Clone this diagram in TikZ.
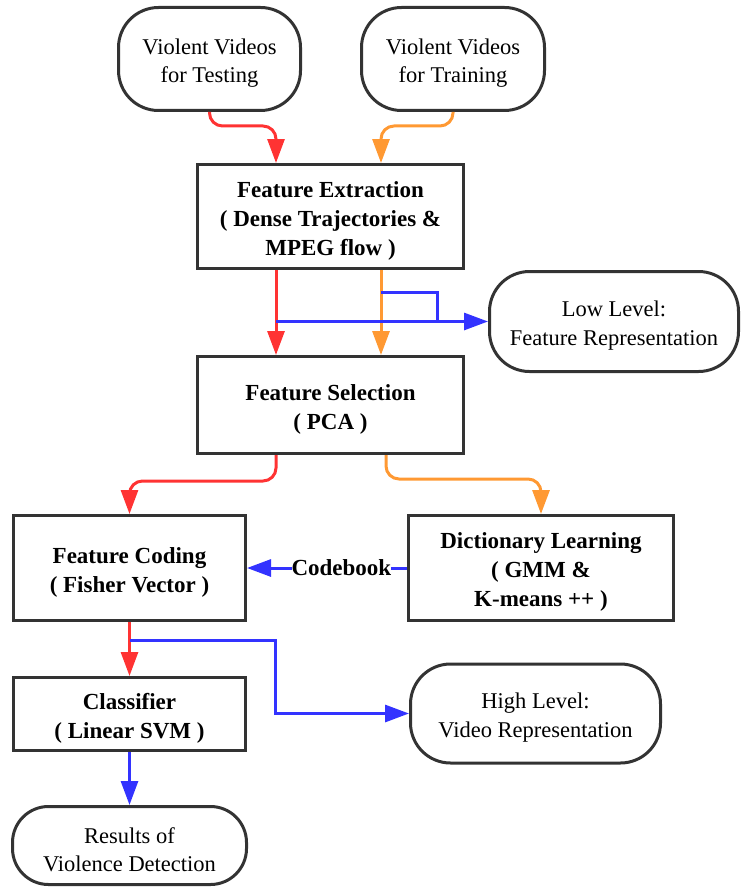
\documentclass[tikz,border=0pt]{standalone}
\usepackage{fontspec}
\setmainfont{Liberation Serif}
\newfontfamily\tnr{Liberation Serif}
\usetikzlibrary{arrows.meta,calc}
\definecolor{cred}{HTML}{FF3333}
\definecolor{corange}{HTML}{FF9933}
\definecolor{cblue}{HTML}{3333FF}
\definecolor{cdark}{HTML}{333333}
\tikzset{
  proc/.style={draw=cdark, line width=3pt, rectangle, inner sep=0pt},
  term/.style={draw=cdark, line width=3pt, rectangle, rounded corners=40pt, inner sep=0pt},
  btxt/.style={align=center, inner sep=0pt, font=\tnr\fontsize{23}{29}\selectfont\bfseries},
  ntxt/.style={align=center, inner sep=0pt, font=\tnr\fontsize{22.5}{28.5}\selectfont},
  conn/.style={line width=3pt, -{Triangle[length=24pt,width=17pt]}},
  curvy/.style={conn, rounded corners=13pt},
  plainline/.style={line width=3pt},
}
\begin{document}
\begin{tikzpicture}[x=1pt,y=-1pt]
\useasboundingbox (0,0) rectangle (740,888);
% boxes
\node[term, minimum width=182pt, minimum height=103pt] (test) at (209.5,59) {};
\node[term, minimum width=183pt, minimum height=103pt] (train) at (453,59) {};
\node[proc, minimum width=266pt, minimum height=104pt] (fe) at (330.5,216.5) {};
\node[term, minimum width=249pt, minimum height=100pt] (low) at (614,321.5) {};
\node[proc, minimum width=266pt, minimum height=97pt] (fs) at (330.5,405) {};
\node[proc, minimum width=232pt, minimum height=105pt] (fc) at (129.5,568) {};
\node[proc, minimum width=265pt, minimum height=105pt] (dl) at (541,568) {};
\node[proc, minimum width=232pt, minimum height=73pt] (cls) at (129.5,714) {};
\node[term, minimum width=250pt, minimum height=99pt] (high) at (535.5,713.5) {};
\node[term, minimum width=234pt, minimum height=78pt, rounded corners=36pt] (res) at (129.5,845.5) {};
% texts
\node[ntxt] (testt) at ($(test.center)+(0,4)$) {Violent Videos\\for Testing};
\node[ntxt] (traint) at ($(train.center)+(0,4)$) {Violent Videos\\for Training};
\node[btxt] (fet) at ($(fe.center)+(0,4)$) {Feature Extraction\\( Dense Trajectories \&\\MPEG flow )};
\node[ntxt] (lowt) at ($(low.center)+(0,4)$) {Low Level:\\Feature Representation};
\node[btxt] (fst) at ($(fs.center)+(0,4)$) {Feature Selection\\( PCA )};
\node[btxt] (fct) at ($(fc.center)+(0,4)$) {Feature Coding\\( Fisher Vector )};
\node[btxt] (dlt) at ($(dl.center)+(0,4)$) {Dictionary Learning\\( GMM \&\\K-means ++ )};
\node[btxt] (clst) at ($(cls.center)+(0,4)$) {Classifier\\( Linear SVM )};
\node[ntxt] (hight) at ($(high.center)+(0,4)$) {High Level:\\Video Representation};
\node[ntxt] (rest) at ($(res.center)+(0,4)$) {Results of\\Violence Detection};
% helper coordinates
\coordinate (cR) at (276,0);
\coordinate (cO) at (381,0);
\coordinate (cO2) at (386,0);
\coordinate (bumpA) at (381,292);
\coordinate (bumpB) at (437,292);
\coordinate (hb) at (129.5,640);
\coordinate (hk) at (275,640);
% connectors
\draw[curvy, cred] (test.south) -- ++(0,14) -| (fe.north -| cR);
\draw[curvy, corange] (train.south) -- ++(0,14) -| (fe.north -| cO);
\draw[conn, cred] (fe.south -| cR) -- (fs.north -| cR);
\draw[conn, corange] (fe.south -| cO) -- (fs.north -| cO);
\draw[conn, cblue] (cR |- low.west) -- (low.west);
\draw[plainline, cblue] (bumpA) -- (bumpB) -- (bumpB |- low.west);
\draw[curvy, cred] (fs.south -| cR) -- ++(0,26) -| (fc.north);
\draw[curvy, corange] (fs.south -| cO2) -- ++(0,24) -| (dl.north);
\draw[conn, cblue] (dl.west) -- node[pos=0.41, fill=white, inner sep=1pt, btxt, text=black] {Codebook} (fc.east);
\draw[conn, cred] (fc.south) -- (cls.north);
\draw[conn, cblue] (hb) -- (hk) |- (high.west);
\draw[conn, cblue] (cls.south) -- (res.north);
\end{tikzpicture}
\end{document}
